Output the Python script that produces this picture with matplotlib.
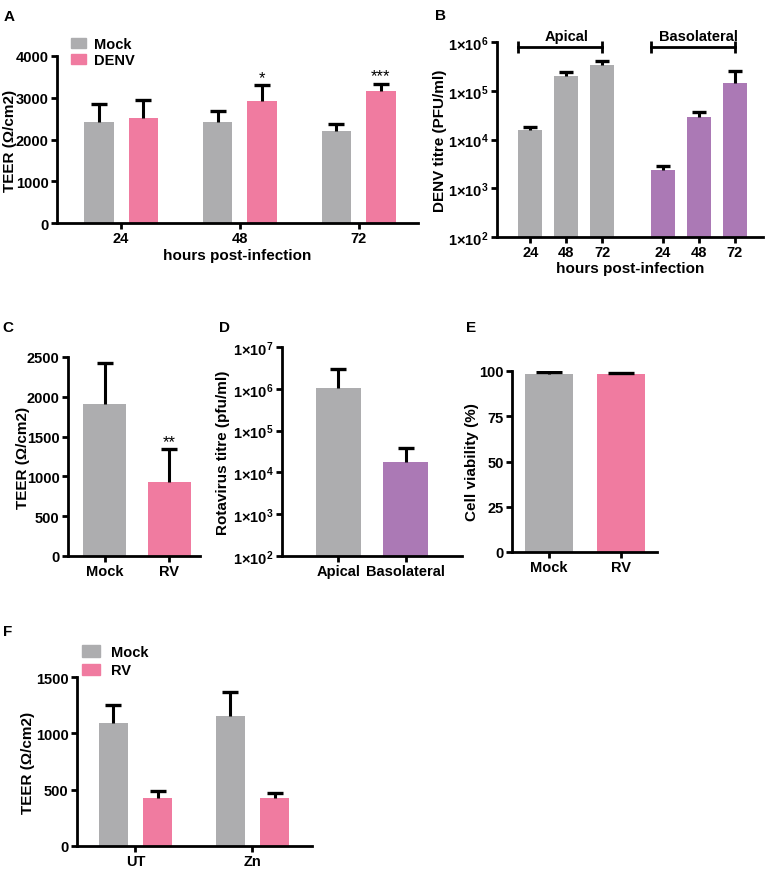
import numpy as np
import matplotlib
matplotlib.use('Agg')
import matplotlib.pyplot as plt
from matplotlib.patches import Patch
from matplotlib.ticker import NullLocator
from matplotlib import transforms

plt.rcParams['font.family'] = ['Liberation Sans', 'DejaVu Sans']
plt.rcParams['font.weight'] = 'bold'
plt.rcParams['axes.labelweight'] = 'bold'
plt.rcParams['mathtext.fontset'] = 'custom'
plt.rcParams['mathtext.rm'] = 'Liberation Sans:bold'
plt.rcParams['mathtext.bf'] = 'Liberation Sans:bold'
plt.rcParams['mathtext.default'] = 'rm'

GREY = '#adadaf'
PINK = '#f07ba0'
PURPLE = '#ab79b5'

W, H = 767, 870

# A - TEER, DENV
hours = ['24', '48', '72']
a_mock = [2410, 2430, 2200]
a_mock_err = [440, 260, 160]
a_denv = [2505, 2930, 3160]
a_denv_err = [440, 375, 180]
a_stars = ['', '*', '***']

# B - DENV titre
b_apical = [1.57e4, 1.98e5, 3.43e5]
b_apical_err = [0.23e4, 0.48e5, 0.64e5]
b_baso = [2.4e3, 2.9e4, 1.45e5]
b_baso_err = [0.4e3, 0.7e4, 1.05e5]

# C - TEER, rotavirus
c_groups = ['Mock', 'RV']
c_teer = [1905, 925]
c_err = [525, 420]
c_stars = ['', '**']

# D - rotavirus titre
d_groups = ['Apical', 'Basolateral']
d_titre = [1.07e6, 1.8e4]
d_err = [1.93e6, 2.1e4]

# E - cell viability
e_groups = ['Mock', 'RV']
e_viab = [98.6, 98.4]
e_err = [0.6, 0.6]

# F - TEER with zinc
f_groups = ['UT', 'Zn']
f_mock = [1092, 1151]
f_mock_err = [157, 216]
f_rv = [426, 426]
f_rv_err = [62, 41]

fig = plt.figure(figsize=(W / 100, H / 100), dpi=100)


def make_ax(x0, y0, x1, y1):
    return fig.add_axes([x0 / W, 1 - y1 / H, (x1 - x0) / W, (y1 - y0) / H])


def style(ax):
    for s in ['top', 'right']:
        ax.spines[s].set_visible(False)
    for s in ['left', 'bottom']:
        ax.spines[s].set_linewidth(2)
    ax.tick_params(width=2, length=4, labelsize=10.5, pad=2)


def ylabel_at(ax, text, px):
    # px is the centre of the rotated label; anchor is its right edge
    ax.set_ylabel(text, fontsize=11)
    tr = transforms.blended_transform_factory(fig.transFigure, ax.transAxes)
    ax.yaxis.set_label_coords((px + 7) / W, 0.5, transform=tr)


def bars(ax, x, vals, errs, color, width, cap=11):
    x = np.asarray(x, dtype=float)
    vals = np.asarray(vals, dtype=float)
    tops = vals + np.asarray(errs, dtype=float)
    ax.bar(x, vals, width, color=color, zorder=2)
    # upper-only error bars with a cap at the top
    ax.vlines(x, vals, tops, color='black', lw=2.2, zorder=3)
    ax.plot(x, tops, ls='none', marker='_', markersize=cap, mew=2.4, color='black', zorder=3)


def letter(s, px, py):
    fig.text(px / W, 1 - py / H, s, fontsize=11, fontweight='bold', ha='center', va='center')


# ---- A ----
ax = make_ax(57, 57, 418, 224)
style(ax)
x = np.arange(len(hours))
bars(ax, x - 0.1875, a_mock, a_mock_err, GREY, 0.25)
bars(ax, x + 0.1875, a_denv, a_denv_err, PINK, 0.25)
for i, s in enumerate(a_stars):
    if s:
        ax.text(x[i] + 0.1875, a_denv[i] + a_denv_err[i], s, ha='center', va='bottom',
                fontsize=12, fontweight='normal')
ax.set_xlim(-0.54, 2.5)
ax.set_ylim(0, 4000)
ax.set_yticks([0, 1000, 2000, 3000, 4000])
ax.set_xticks(x)
ax.set_xticklabels(hours)
ax.set_xlabel('hours post-infection', fontsize=11, labelpad=2)
ylabel_at(ax, 'TEER (Ω/cm2)', 10)
ax.legend([Patch(color=GREY), Patch(color=PINK)], ['Mock', 'DENV'],
          loc='upper left', bbox_to_anchor=(71 / W, 1 - 38 / H), bbox_transform=fig.transFigure,
          frameon=False, fontsize=10.5, borderpad=0, borderaxespad=0, labelspacing=0.15,
          handlelength=1.0, handleheight=0.72, handletextpad=0.6)
letter('A', 9, 17)

# ---- B ----
ax = make_ax(497, 43, 763, 238)
style(ax)
xb = np.array([0, 1, 2, 3.67, 4.67, 5.67])
bars(ax, xb[:3], b_apical, b_apical_err, GREY, 0.67, cap=10)
bars(ax, xb[3:], b_baso, b_baso_err, PURPLE, 0.67, cap=10)
ax.set_yscale('log')
ax.set_ylim(1e2, 1e6)
ax.set_xlim(-0.92, 6.45)
dec = [2, 3, 4, 5, 6]
ax.set_yticks([10.0 ** d for d in dec])
ax.set_yticklabels(['1×10$^{%d}$' % d for d in dec])
ax.yaxis.set_minor_locator(NullLocator())
ax.set_xticks(xb)
ax.set_xticklabels(hours + hours)
ax.set_xlabel('hours post-infection', fontsize=11, labelpad=1)
ylabel_at(ax, 'DENV titre (PFU/ml)', 440)
for grp, name in [(xb[:3], 'Apical'), (xb[3:], 'Basolateral')]:
    ax.plot([grp[0] - 0.335, grp[-1]], [7.9e5, 7.9e5], color='black', lw=2,
            marker='|', markersize=9, mew=2, clip_on=False)
    ax.text(grp[1], 1.32e6, name, ha='center', va='center', fontsize=10.5)
letter('B', 440, 16)

# ---- C ----
ax = make_ax(68, 358, 200, 557)
style(ax)
xc = np.arange(2)
bars(ax, xc, c_teer, c_err, [GREY, PINK], 0.67)
for i, s in enumerate(c_stars):
    if s:
        ax.text(xc[i], c_teer[i] + c_err[i], s, ha='center', va='bottom',
                fontsize=12, fontweight='normal')
ax.set_xlim(-0.57, 1.48)
ax.set_ylim(0, 2500)
ax.set_yticks(range(0, 2501, 500))
ax.set_xticks(xc)
ax.set_xticklabels(c_groups)
ylabel_at(ax, 'TEER (Ω/cm2)', 23)
letter('C', 8, 328)

# ---- D ----
ax = make_ax(282, 348, 462, 557)
style(ax)
xd = np.arange(2)
bars(ax, xd, d_titre, d_err, [GREY, PURPLE], 0.67)
ax.set_yscale('log')
ax.set_ylim(1e2, 1e7)
ax.set_xlim(-0.84, 1.84)
dec = [2, 3, 4, 5, 6, 7]
ax.set_yticks([10.0 ** d for d in dec])
ax.set_yticklabels(['1×10$^{%d}$' % d for d in dec])
ax.yaxis.set_minor_locator(NullLocator())
ax.set_xticks(xd)
ax.set_xticklabels(d_groups)
ylabel_at(ax, 'Rotavirus titre (pfu/ml)', 223)
letter('D', 225, 328)

# ---- E ----
ax = make_ax(512, 372, 657, 553)
style(ax)
xe = np.arange(2)
bars(ax, xe, e_viab, e_err, [GREY, PINK], 0.67, cap=19)
ax.set_xlim(-0.51, 1.5)
ax.set_ylim(0, 100)
ax.set_yticks([0, 25, 50, 75, 100])
ax.set_xticks(xe)
ax.set_xticklabels(e_groups)
ylabel_at(ax, 'Cell viability (%)', 472)
letter('E', 471, 328)

# ---- F ----
ax = make_ax(77, 678, 312, 847)
style(ax)
xf = np.arange(2)
bars(ax, xf - 0.19, f_mock, f_mock_err, GREY, 0.25)
bars(ax, xf + 0.19, f_rv, f_rv_err, PINK, 0.25)
ax.set_xlim(-0.5, 1.51)
ax.set_ylim(0, 1500)
ax.set_yticks([0, 500, 1000, 1500])
ax.set_xticks(xf)
ax.set_xticklabels(f_groups)
ylabel_at(ax, 'TEER (Ω/cm2)', 28)
ax.legend([Patch(color=GREY), Patch(color=PINK)], ['Mock', 'RV'],
          loc='upper left', bbox_to_anchor=(82 / W, 1 - 646 / H), bbox_transform=fig.transFigure,
          frameon=False, fontsize=10.5, borderpad=0, borderaxespad=0, labelspacing=0.3,
          handlelength=1.2, handleheight=0.85, handletextpad=0.8)
letter('F', 8, 632)

fig.savefig('out.png', dpi=100)
